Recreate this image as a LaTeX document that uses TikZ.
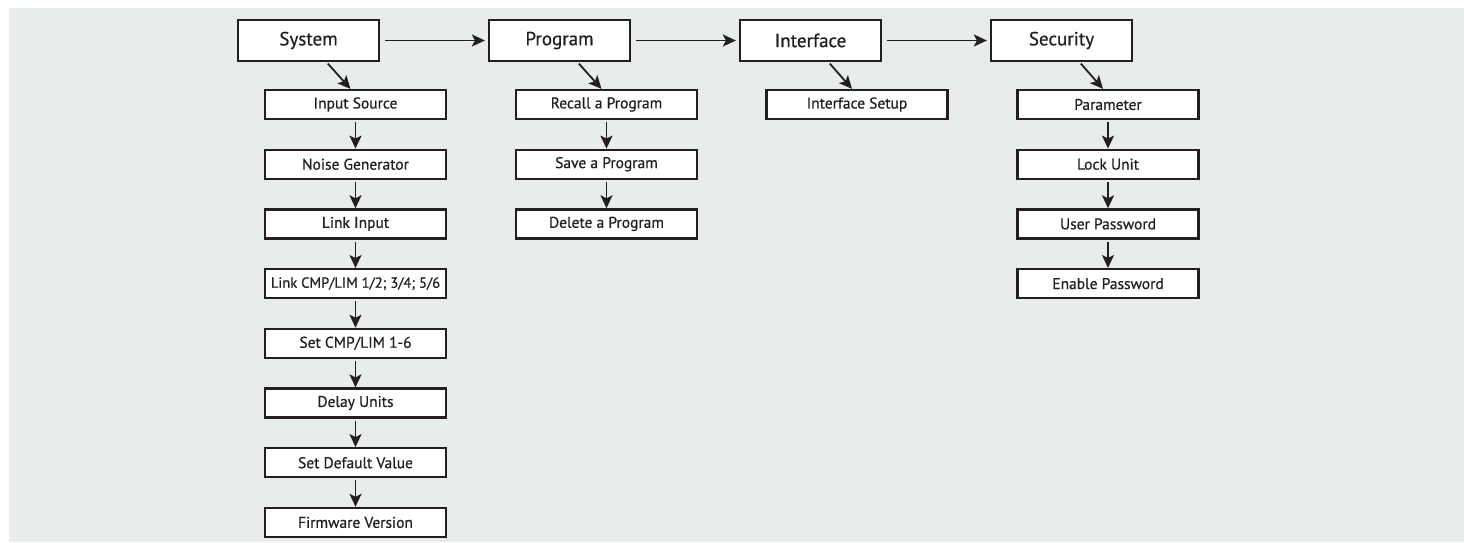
\documentclass[tikz,border=0pt]{standalone}
\usepackage{fontspec}
\setmainfont{PT Sans}
\newfontfamily\boxfont{PT Sans}[BoldFont={PT Sans},BoldFeatures={FakeBold=0.6}]
\usetikzlibrary{arrows.meta}

\definecolor{bggray}{HTML}{E8ECEC}
\definecolor{ink}{HTML}{231F20}

\begin{document}
\begin{tikzpicture}[x=1pt,y=-1pt,text=ink,
    topbox/.style={draw=ink,line width=2.2pt,fill=white,inner sep=0pt,
        minimum width=141pt,minimum height=41pt,font=\boxfont\bfseries\fontsize{19}{22}\selectfont},
    subbox/.style={draw=ink,line width=2.2pt,fill=white,inner sep=0pt,
        minimum width=181pt,minimum height=29pt,font=\boxfont\bfseries\fontsize{15.5}{18}\selectfont},
    link/.style={draw=ink,line width=1.8pt,-{Stealth[length=13pt,width=12pt,inset=3pt]}}]

    % grey background with the white margin on top and left
    \useasboundingbox (0,0) rectangle (1464,542);
    \fill[bggray] (9,8) rectangle (1464,542);

    % main menu
    \node[topbox] (sys)   at (308.5,40.5)  {System};
    \node[topbox] (prog)  at (559.5,40.5)  {Program};
    \node[topbox] (iface) at (810.5,40.5)  {Interface};
    \node[topbox] (sec)   at (1061.5,40.5) {Security};

    \draw[link,shorten <=5pt,shorten >=3pt] (sys) -- (prog);
    \draw[link,shorten <=5pt,shorten >=3pt] (prog) -- (iface);
    \draw[link,shorten <=5pt,shorten >=3pt] (iface) -- (sec);

    % system menu
    \foreach \txt [count=\i] in {Input Source,Noise Generator,Link Input,
        {\fontsize{14.6}{18}\selectfont Link CMP/LIM 1/2; 3/4; 5/6},Set CMP/LIM 1-6,
        Delay Units,Set Default Value,Firmware Version}
        \node[subbox] (sys\i) at (355.5,{104.5+59.7*(\i-1)}) {\txt};

    % program menu
    \foreach \txt [count=\i] in {Recall a Program,Save a Program,Delete a Program}
        \node[subbox] (prog\i) at (606.5,{104.5+59.7*(\i-1)}) {\txt};

    % interface menu
    \node[subbox] (iface1) at (857,104.5) {Interface Setup};

    % security menu
    \foreach \txt [count=\i] in {Parameter,Lock Unit,User Password,Enable Password}
        \node[subbox] (sec\i) at (1108,{104.5+59.7*(\i-1)}) {\txt};

    % into the sub menus
    \draw[link,shorten <=2pt] ([xshift=18pt]sys.south)   -- ([xshift=-5pt]sys1.north);
    \draw[link,shorten <=2pt] ([xshift=18pt]prog.south)  -- ([xshift=-5pt]prog1.north);
    \draw[link,shorten <=2pt] ([xshift=18pt]iface.south) -- ([xshift=-5pt]iface1.north);
    \draw[link,shorten <=2pt] ([xshift=18pt]sec.south)   -- ([xshift=-5pt]sec1.north);

    % down the columns
    \foreach \i [evaluate=\i as \j using int(\i+1)] in {1,...,7}
        \draw[link,shorten <=2pt] (sys\i) -- (sys\j);
    \foreach \i [evaluate=\i as \j using int(\i+1)] in {1,2}
        \draw[link,shorten <=2pt] (prog\i) -- (prog\j);
    \foreach \i [evaluate=\i as \j using int(\i+1)] in {1,2,3}
        \draw[link,shorten <=2pt] (sec\i) -- (sec\j);

\end{tikzpicture}
\end{document}
